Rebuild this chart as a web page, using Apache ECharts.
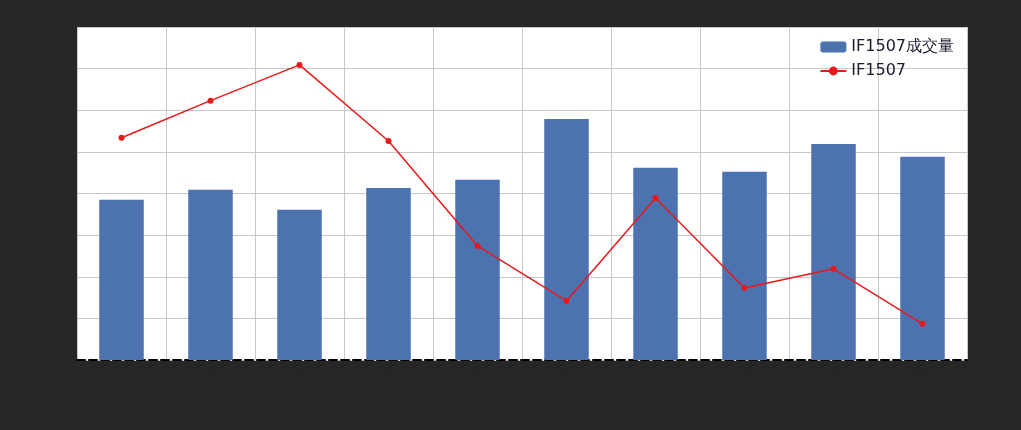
<!DOCTYPE html>
<html lang="en">
<head>
    <meta charset="UTF-8">
    <title>IF1507</title>
    <script src="https://cdn.jsdelivr.net/npm/echarts@6/dist/echarts.min.js"></script>
    <style>
        html, body { margin: 0; padding: 0; background: #262626; }
        #chart { width: 1021px; height: 430px; }
    </style>
</head>
<body>
<div id="chart"></div>
<script>
    const categories = ['1', '2', '3', '4', '5', '6', '7', '8', '9', '10']
    const volume = [3.85, 4.09, 3.61, 4.13, 4.33, 5.79, 4.62, 4.52, 5.19, 4.88]
    const price = [5.34, 6.23, 7.09, 5.26, 2.74, 1.42, 3.89, 1.73, 2.19, 0.87]

    const chart = echarts.init(document.getElementById('chart'))
    chart.setOption({
        backgroundColor: '#262626',
        animation: false,
        grid: {left: 77, right: 54, top: 27, bottom: 70, backgroundColor: '#fff', show: true, borderWidth: 0},
        legend: {
            right: 62, top: 34, orient: 'vertical', itemGap: 8, itemWidth: 26, itemHeight: 11,
            textStyle: {fontSize: 16, color: '#1a1a2e', fontFamily: 'DejaVu Sans'},
            data: ['IF1507成交量', 'IF1507']
        },
        xAxis: {
            type: 'category', data: categories,
            axisLine: {lineStyle: {color: '#000', type: 'dashed', width: 2}},
            axisTick: {show: false},
            axisLabel: {color: '#262626'},
            splitLine: {show: true, interval: 0, lineStyle: {color: '#c8c8c8'}}
        },
        yAxis: [0, 1].map(i => ({
            type: 'value', min: 0, max: 8, interval: 1,
            axisLabel: {show: false}, axisLine: {show: false}, axisTick: {show: false},
            splitLine: {show: i === 0, lineStyle: {color: '#c8c8c8'}}
        })),
        series: [
            {name: 'IF1507成交量', type: 'bar', data: volume, barWidth: '50%', itemStyle: {color: '#4c72b0'}},
            {name: 'IF1507', type: 'line', yAxisIndex: 1, data: price, symbol: 'circle', symbolSize: 6,
                itemStyle: {color: '#e8191b'}, lineStyle: {color: '#e8191b', width: 1.5}}
        ]
    })
</script>
</body>
</html>
